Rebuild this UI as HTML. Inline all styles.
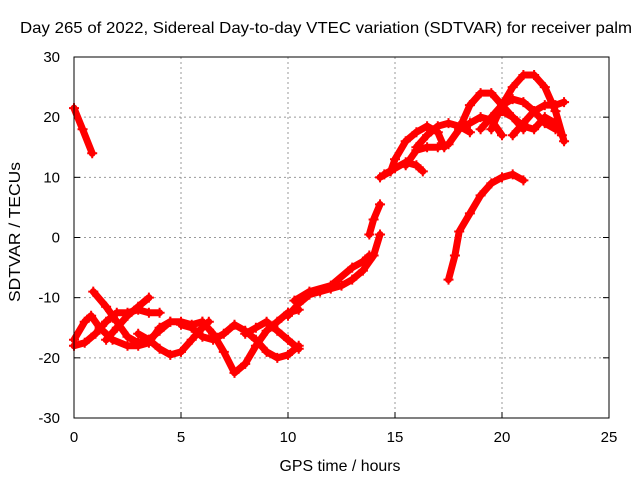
<!DOCTYPE html>
<html><head><meta charset="utf-8"><style>
body{margin:0;background:#fff}
svg{display:block;font-family:"Liberation Sans",sans-serif}
</style></head><body>
<svg id="chart" width="640" height="480" viewBox="0 0 640 480" xmlns="http://www.w3.org/2000/svg">
<rect width="640" height="480" fill="#fff"/>
<text x="326" y="33" text-anchor="middle" font-size="16" textLength="612" lengthAdjust="spacingAndGlyphs">Day 265 of 2022, Sidereal Day-to-day VTEC variation (SDTVAR) for receiver palm</text>
<text x="340" y="471" text-anchor="middle" font-size="16" textLength="121" lengthAdjust="spacingAndGlyphs">GPS time / hours</text>
<text transform="translate(20,232) rotate(-90)" text-anchor="middle" font-size="16" textLength="140" lengthAdjust="spacingAndGlyphs">SDTVAR / TECUs</text>
<g id="grid"></g><g id="ticks"></g><g id="series"></g>
<rect x="74" y="57" width="535" height="361" fill="none" stroke="#000" stroke-width="1"/>
</svg>
<script>
const xTicks=[0,5,10,15,20,25];
const yTicks=[-30,-20,-10,0,10,20,30];
const s1=[[0,21.5],[0.4,18],[0.85,14]];
const s2=[[0,-18],[0.5,-17.5],[1,-16],[1.5,-14],[2,-12.5],[2.5,-12.5],[3,-12],[3.5,-12.5],[4,-12.5]];
const s3=[[0.9,-9],[1.5,-11.5],[2,-14],[2.5,-16.5],[3,-17.5],[3.5,-17],[4,-15.5],[4.5,-14],[5,-14],[5.5,-14.5],[6,-14]];
const s4=[[0,-17],[0.5,-14],[0.8,-13],[1.2,-15],[1.8,-17],[2.5,-18],[3,-18],[3.5,-17.5],[4,-15],[4.5,-14]];
const s5=[[1.5,-17],[2,-15],[2.5,-13],[3,-11.5],[3.5,-10]];
const s6=[[3,-16],[3.5,-17],[4,-18.5],[4.5,-19.5],[5,-19],[5.5,-17],[6,-15],[6.3,-14]];
const s7=[[5,-14.5],[5.5,-15],[6,-16.5],[6.5,-17],[7,-16],[7.5,-14.5],[8,-15.5],[8.5,-17],[9,-19],[9.5,-20],[10,-19.5],[10.5,-18]];
const s8=[[6,-14],[6.5,-16],[7,-19],[7.5,-22.5],[8,-21],[8.5,-18],[9,-15.5],[9.5,-14],[10,-12.5],[10.5,-12]];
const s9=[[8,-16],[8.5,-15],[9,-14],[9.5,-15.5],[10,-17],[10.5,-18.5]];
const s10=[[10,-13],[10.5,-11],[11,-9.5],[11.5,-9],[12,-8.5],[12.5,-8],[13,-7],[13.5,-5.5],[14,-3],[14.3,0.5]];
const s11=[[10.3,-10.5],[11,-9],[12,-8],[13,-5],[13.5,-4],[13.8,-3]];
const s12=[[13.8,0.5],[14,3],[14.3,5.5]];
const s13=[[14.3,10],[14.8,11],[15,13],[15.5,16],[16,17.5],[16.5,18.5],[17,17.5],[17.3,15]];
const s14=[[14.5,10.5],[15,11.5],[15.5,12.5],[16,12],[16.3,11]];
const s15=[[15.5,12],[16,14.5],[16.5,15],[17,15],[17.5,15.5],[18,18],[18.5,19],[19,20],[19.5,19.5],[20,17]];
const s16=[[16,15],[16.5,17],[17,18.5],[17.5,19],[18,18.5],[18.5,17.5]];
const s17=[[18,18],[18.5,22],[19,24],[19.5,24],[20,22],[20.5,20],[21,18]];
const s18=[[19.5,18],[20,22],[20.5,25],[21,27],[21.5,27],[22,25],[22.5,21],[22.9,16]];
const s19=[[19,18],[19.5,20],[20,22],[20.5,23],[21,22.5],[21.5,21],[22,19],[22.5,18]];
const s20=[[20.5,17],[21,19],[21.5,21],[22,22],[22.5,22],[22.9,22.5]];
const s21=[[20,21],[20.5,20],[21,18.5],[21.5,18],[22,20],[22.5,19],[22.8,17]];
const s22=[[17.5,-7],[17.8,-3],[18,1],[18.5,4],[19,7],[19.5,9],[20,10],[20.5,10.5],[21,9.5]];
const allSeries=[s1,s2,s3,s4,s5,s6,s7,s8,s9,s10,s11,s12,s13,s14,s15,s16,s17,s18,s19,s20,s21,s22];
const NS="http://www.w3.org/2000/svg";
const X=v=>74+v*(535/25);
const Y=v=>418-(v+30)*(361/60);
const grid=document.getElementById('grid'),ticks=document.getElementById('ticks'),ser=document.getElementById('series');
function mk(tag,attrs,parent){const e=document.createElementNS(NS,tag);for(const k in attrs)e.setAttribute(k,attrs[k]);parent.appendChild(e);return e;}
xTicks.forEach(t=>{
  if(t>0&&t<25){const g=mk('line',{x1:X(t),x2:X(t),y1:57,y2:418,stroke:'#999','stroke-dasharray':'2,3'},grid);
  
  }
  const tk=mk('line',{x1:X(t),x2:X(t),y1:418,y2:412,stroke:'#000'},ticks);
  
  
  const tx=mk('text',{x:X(t),y:442,'text-anchor':'middle','font-size':15},ticks);tx.textContent=t;
  
  
});
yTicks.forEach(t=>{
  if(t>-30&&t<30){const g=mk('line',{x1:74,x2:609,y1:Y(t),y2:Y(t),stroke:'#999','stroke-dasharray':'2,3'},grid);
  
  }
  const tk=mk('line',{x1:74,x2:80,y1:Y(t),y2:Y(t),stroke:'#000'},ticks);
  
  
  const tk2=mk('line',{x1:603,x2:609,y1:Y(t),y2:Y(t),stroke:'#000'},ticks);
  
  
  const tx=mk('text',{x:60,y:Y(t)+5,'text-anchor':'end','font-size':15},ticks);tx.textContent=t;
  
  
});
allSeries.forEach(s=>{
  const p=mk('polyline',{points:s.map(d=>X(d[0])+','+Y(d[1])).join(' '),fill:'none',stroke:'#f00','stroke-width':7,'stroke-linejoin':'round','stroke-linecap':'round'},ser);
  
  
  s.forEach(d=>{
    const m=mk('path',{d:`M${X(d[0])-5},${Y(d[1])}h10M${X(d[0])},${Y(d[1])-5}v10`,stroke:'#f00','stroke-width':2},ser);
    
    
  });
});
</script>
</body></html>
